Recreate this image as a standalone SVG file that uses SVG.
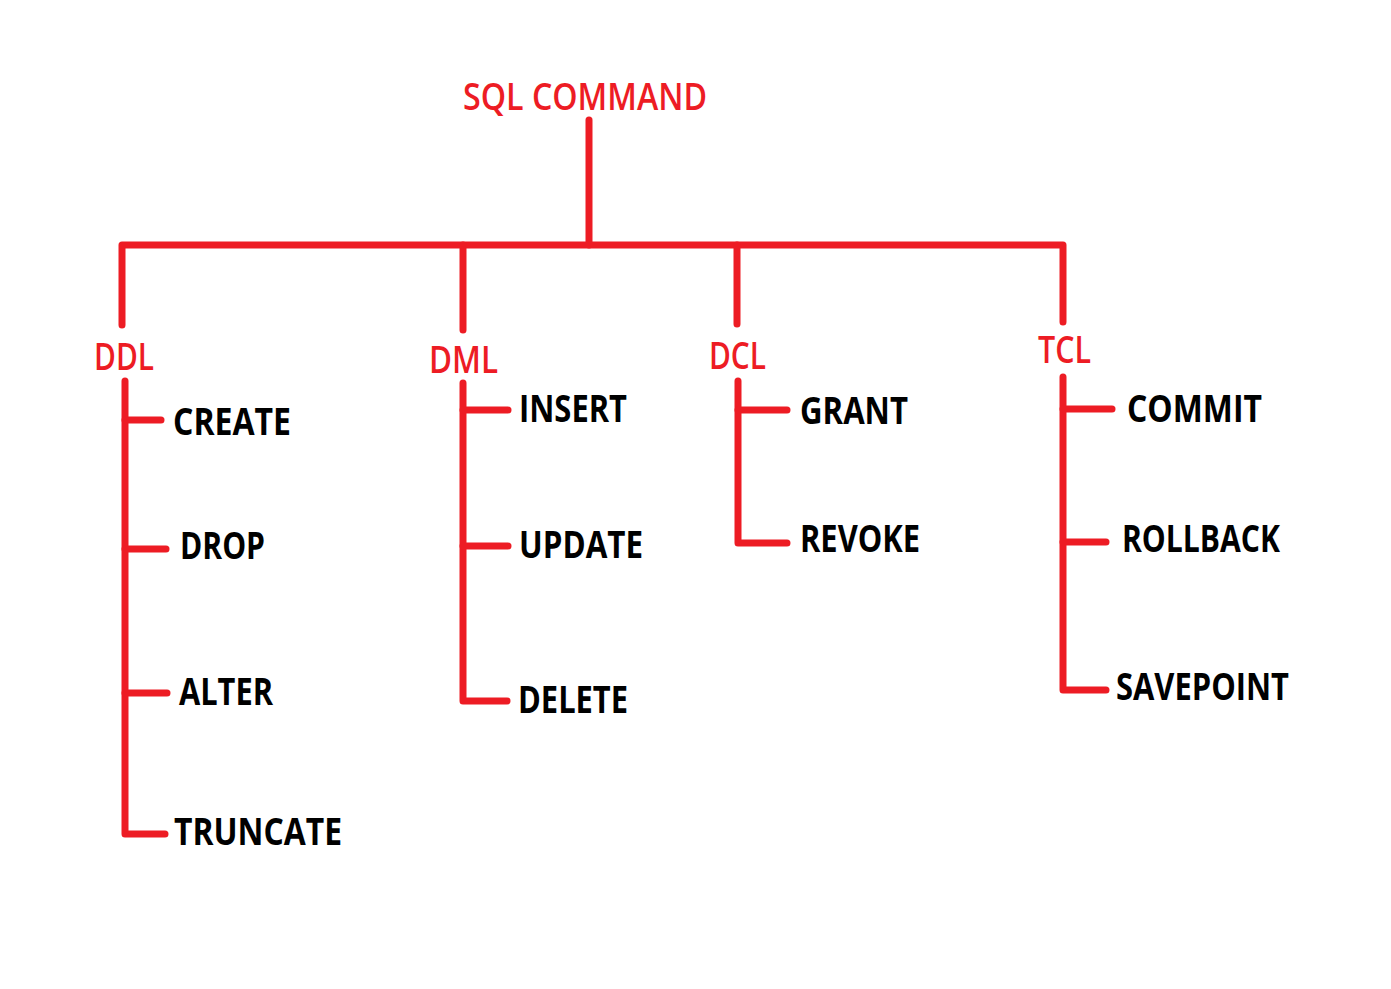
<svg xmlns="http://www.w3.org/2000/svg" width="1391" height="989" viewBox="0 0 1391 989">
<style>
.ln{fill:none;stroke:#ED1C24;stroke-width:7;stroke-linecap:round;stroke-linejoin:round}
.cat{font-family:"Open Sans","Liberation Sans",sans-serif;font-size:37px;font-weight:600;fill:#ED1C24}
.cmd{font-family:"Open Sans","Liberation Sans",sans-serif;font-size:37px;font-weight:bold;fill:#000}
</style>
<rect width="1391" height="989" fill="#fff"/>
<g id="connectors">
<path class="ln" d="M589,120 V245"/>
<path class="ln" d="M122,325 V245 H1063 V322"/>
<path class="ln" d="M463,245 V330"/>
<path class="ln" d="M737,245 V324"/>
<path class="ln" d="M125,381 V834 H165"/>
<path class="ln" d="M125,420 H161"/>
<path class="ln" d="M125,549 H166"/>
<path class="ln" d="M125,693 H167"/>
<path class="ln" d="M463,383 V701 H507"/>
<path class="ln" d="M463,410 H508"/>
<path class="ln" d="M463,546 H508"/>
<path class="ln" d="M738,381 V543 H787"/>
<path class="ln" d="M738,410 H787"/>
<path class="ln" d="M1063,377 V690 H1106"/>
<path class="ln" d="M1063,409 H1112"/>
<path class="ln" d="M1063,542 H1106"/>
</g>
<g id="sql-command"><text class="cat" x="463" y="110" textLength="244" lengthAdjust="spacingAndGlyphs">SQL COMMAND</text></g>
<g id="ddl"><text class="cat" x="94" y="370" textLength="60" lengthAdjust="spacingAndGlyphs">DDL</text></g>
<g id="dml"><text class="cat" x="429" y="373" textLength="69" lengthAdjust="spacingAndGlyphs">DML</text></g>
<g id="dcl"><text class="cat" x="709" y="369" textLength="57" lengthAdjust="spacingAndGlyphs">DCL</text></g>
<g id="tcl"><text class="cat" x="1038" y="363" textLength="53" lengthAdjust="spacingAndGlyphs">TCL</text></g>
<g id="create"><text class="cmd" x="173" y="435" textLength="118" lengthAdjust="spacingAndGlyphs">CREATE</text></g>
<g id="drop"><text class="cmd" x="180" y="559" textLength="85" lengthAdjust="spacingAndGlyphs">DROP</text></g>
<g id="alter"><text class="cmd" x="179" y="705" textLength="94" lengthAdjust="spacingAndGlyphs">ALTER</text></g>
<g id="truncate"><text class="cmd" x="174" y="845" textLength="168" lengthAdjust="spacingAndGlyphs">TRUNCATE</text></g>
<g id="insert"><text class="cmd" x="519" y="422" textLength="108" lengthAdjust="spacingAndGlyphs">INSERT</text></g>
<g id="update"><text class="cmd" x="519" y="558" textLength="124" lengthAdjust="spacingAndGlyphs">UPDATE</text></g>
<g id="delete"><text class="cmd" x="518" y="713" textLength="110" lengthAdjust="spacingAndGlyphs">DELETE</text></g>
<g id="grant"><text class="cmd" x="800" y="424" textLength="108" lengthAdjust="spacingAndGlyphs">GRANT</text></g>
<g id="revoke"><text class="cmd" x="800" y="552" textLength="120" lengthAdjust="spacingAndGlyphs">REVOKE</text></g>
<g id="commit"><text class="cmd" x="1127" y="422" textLength="135" lengthAdjust="spacingAndGlyphs">COMMIT</text></g>
<g id="rollback"><text class="cmd" x="1122" y="552" textLength="158" lengthAdjust="spacingAndGlyphs">ROLLBACK</text></g>
<g id="savepoint"><text class="cmd" x="1116" y="700" textLength="173" lengthAdjust="spacingAndGlyphs">SAVEPOINT</text></g>
</svg>
